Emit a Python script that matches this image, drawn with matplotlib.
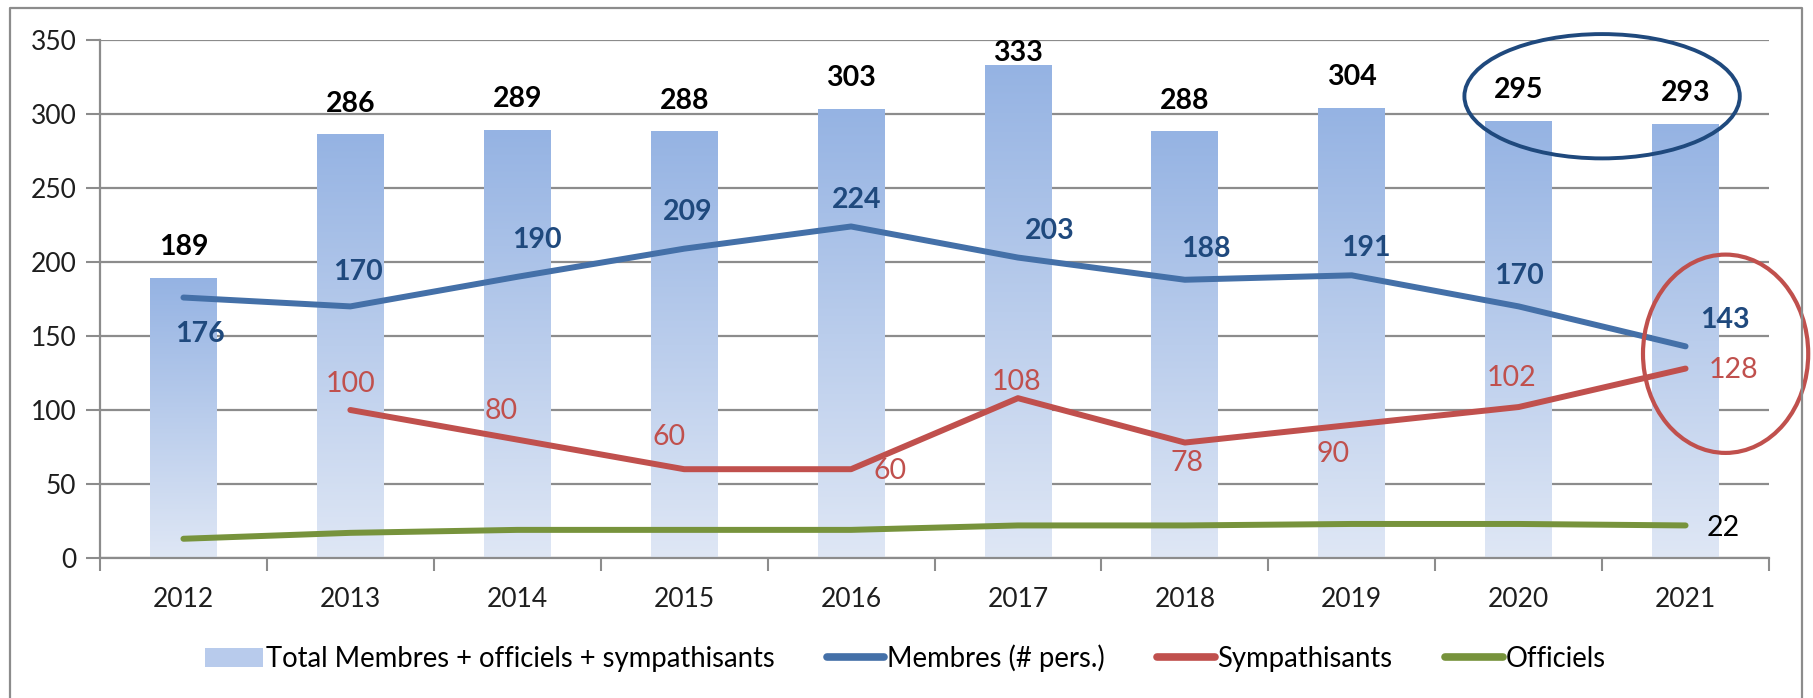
import numpy as np
import matplotlib
matplotlib.use("Agg")
import matplotlib.pyplot as plt
from matplotlib import font_manager
from matplotlib.colors import LinearSegmentedColormap
from matplotlib.patches import Ellipse, Patch
from matplotlib.lines import Line2D

years = ["2012", "2013", "2014", "2015", "2016", "2017", "2018", "2019", "2020", "2021"]
total = [189, 286, 289, 288, 303, 333, 288, 304, 295, 293]
membres = [176, 170, 190, 209, 224, 203, 188, 191, 170, 143]
sympathisants = [np.nan, 100, 80, 60, 60, 108, 78, 90, 102, 128]
officiels = [13, 17, 19, 19, 19, 22, 22, 23, 23, 22]

# label offsets in pixels (dx, dy)
memb_off = [(17, -36), (8, 34), (20, 37), (4, 37), (6, 26), (32, 27), (21, 31), (14, 27), (0, 30), (39, 26)]
symp_off = [None, (0, 26), (-16, 29), (-15, 32), (39, -2), (-1, 16), (2, -20), (-19, -29), (-7, 29), (48, -1)]

BAR_TOP, BAR_BOT = "#95B3E3", "#DFE7F5"
BLUE, RED, GREEN = "#4470A8", "#C0504D", "#77933C"
DBLUE = "#1F497D"
GRID = "#8C8C8C"
TXT = "#1E1E1E"


def has_font(name):
    try:
        font_manager.findfont(name, fallback_to_default=False)
        return True
    except Exception:
        return False


MAIN = "Lato" if has_font("Lato") else "DejaVu Sans"
plt.rcParams["font.family"] = MAIN

fig = plt.figure(figsize=(18.13, 6.98), dpi=100)
ax = fig.add_axes([100 / 1813, 1 - 558 / 698, 1669 / 1813, 518 / 698])

x = np.arange(len(years))
cmap = LinearSegmentedColormap.from_list("bar", [BAR_BOT, BAR_TOP])
grad = np.linspace(0, 1, 256).reshape(-1, 1)
bars = ax.bar(x, total, width=0.4, color="none", zorder=2)
for b in bars:
    x0, w, h = b.get_x(), b.get_width(), b.get_height()
    ax.imshow(grad, cmap=cmap, origin="lower", aspect="auto",
              extent=(x0, x0 + w, 0, h), zorder=2)

ax.plot(x, membres, color=BLUE, lw=4.3, zorder=4, solid_capstyle="round")
ax.plot(x, sympathisants, color=RED, lw=4.3, zorder=4, solid_capstyle="round")
ax.plot(x, officiels, color=GREEN, lw=4.3, zorder=4, solid_capstyle="round")

for i, v in enumerate(total):
    ax.text(i, min(v + 21, 341.5), str(v), ha="center", va="center",
            fontsize=20.5, fontweight="bold", color="black", zorder=5)
for i, v in enumerate(membres):
    ax.annotate(str(v), (i, v), xytext=memb_off[i], textcoords="offset pixels",
                ha="center", va="center", fontsize=20.5, fontweight="bold",
                color=DBLUE, zorder=5)
for i, v in enumerate(sympathisants):
    if np.isnan(v):
        continue
    ax.annotate(str(v), (i, v), xytext=symp_off[i], textcoords="offset pixels",
                ha="center", va="center", fontsize=20.5, color=RED, zorder=5)
ax.annotate(str(officiels[-1]), (x[-1], officiels[-1]), xytext=(38, -3),
            textcoords="offset pixels", ha="center", va="center",
            fontsize=20.5, color="black", zorder=5)

ax.set_xlim(-0.5, len(years) - 0.5)
ax.set_ylim(0, 350)
ax.set_yticks(np.arange(0, 351, 50))
ax.set_xticks(np.arange(-0.5, len(years), 1))
ax.set_xticklabels([])
ax.set_xticks(x, minor=True)
ax.set_xticklabels(years, minor=True)
ax.tick_params(axis="x", which="major", length=9, width=1.5, color=GRID)
ax.tick_params(axis="x", which="minor", length=0, pad=21, labelsize=19, labelcolor=TXT)
ax.tick_params(axis="y", length=10, width=1.5, color=GRID, pad=7, labelsize=19, labelcolor=TXT)
ax.yaxis.grid(True, color=GRID, lw=1.6, zorder=0)
ax.set_axisbelow(True)
for s in ["top", "right"]:
    ax.spines[s].set_visible(False)
for s in ["left", "bottom"]:
    ax.spines[s].set_color(GRID)
    ax.spines[s].set_linewidth(1.6)

# highlight ellipses
ax.add_patch(Ellipse((8.5, 312), 1.65, 84, fill=False, ec=DBLUE, lw=2.8,
                     clip_on=False, zorder=6))
ax.add_patch(Ellipse((9.24, 138), 0.99, 134, fill=False, ec=RED, lw=3.0,
                     clip_on=False, zorder=6))

# outer frame (left, top, right)
fig.add_artist(Line2D([10 / 1813, 10 / 1813, 1802 / 1813, 1802 / 1813],
                      [0, 1 - 8 / 698, 1 - 8 / 698, 0],
                      transform=fig.transFigure, color=GRID, lw=1.6))

handles = [
    Patch(facecolor="#B8CBEC", edgecolor="none"),
    Line2D([], [], color=BLUE, lw=5.5, solid_capstyle="round"),
    Line2D([], [], color=RED, lw=5.5, solid_capstyle="round"),
    Line2D([], [], color=GREEN, lw=5.5, solid_capstyle="round"),
]
labels = ["Total Membres + officiels + sympathisants", "Membres (# pers.)",
          "Sympathisants", "Officiels"]
fig.legend(handles, labels, loc="center left", bbox_to_anchor=(205 / 1813, 1 - 658 / 698),
           ncol=4, frameon=False, handlelength=2.1, handletextpad=0.1,
           columnspacing=1.9, borderaxespad=0, borderpad=0,
           prop={"family": MAIN, "size": 19.8})

fig.savefig("out.png", dpi=100)
